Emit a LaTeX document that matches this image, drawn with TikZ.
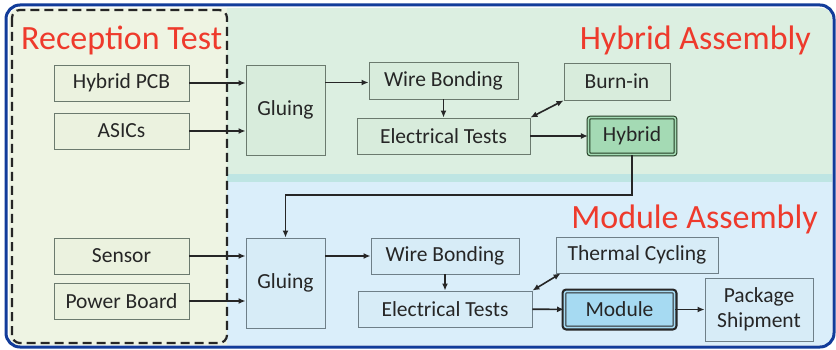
\documentclass[tikz,border=0pt]{standalone}
\usepackage{fontspec}
\setmainfont{Carlito}
\usetikzlibrary{arrows.meta,positioning,calc}

\definecolor{frameblue}{HTML}{123C9A}
\definecolor{recbg}{HTML}{EEF4E3}
\definecolor{hybbg}{HTML}{DCEFE1}
\definecolor{stripe}{HTML}{BEE5E3}
\definecolor{modbg}{HTML}{DAEEFA}
\definecolor{recbox}{HTML}{EBF2DF}
\definecolor{hybbox}{HTML}{D8ECDC}
\definecolor{modbox}{HTML}{D7ECF7}
\definecolor{hybfill}{HTML}{A4DAB4}
\definecolor{modfill}{HTML}{A6DAF2}
\definecolor{titlered}{HTML}{EE3A2C}
\definecolor{textdark}{HTML}{262626}
\definecolor{boxline}{HTML}{6B7A6E}
\definecolor{modline}{HTML}{6E7F88}

\begin{document}
\begin{tikzpicture}[x=1pt, y=-1pt, >={Latex[length=7pt,width=6pt]}, font=\fontsize{21.5}{25}\selectfont]
  \tikzstyle{block}=[draw=boxline, line width=0.9pt, inner sep=0pt, align=center, text=textdark, minimum height=36pt]
  \tikzstyle{recblock}=[block, fill=recbox, minimum width=135pt]
  \tikzstyle{hybblock}=[block, fill=hybbox]
  \tikzstyle{modblock}=[block, draw=modline, fill=modbox]
  \tikzstyle{title}=[text=titlered, font=\fontsize{34}{38}\selectfont, inner sep=0pt]
  \tikzstyle{flow}=[->, line width=1.6pt, draw=textdark]
  \tikzstyle{loop}=[<->, line width=1.6pt, draw=textdark]

  \useasboundingbox (0,0) rectangle (836,350);
  \fill[white] (0,0) rectangle (836,350);

  % ------- background areas -------
  \begin{scope}
    \clip[rounded corners=10pt] (9,8) rectangle (832,345);
    \fill[recbg] (0,0) rectangle (227,350);
    \fill[hybbg] (227,0) rectangle (836,174);
    \fill[stripe] (227,174) rectangle (836,182);
    \fill[modbg] (227,182) rectangle (836,350);
  \end{scope}
  \draw[frameblue, line width=3pt, rounded corners=14pt] (6,5) rectangle (834,347);
  \draw[textdark, line width=2.2pt, dash pattern=on 9pt off 5pt, rounded corners=8pt] (12,10) rectangle (227,343);

  % ------- titles -------
  \node[title, anchor=base west] (rectitle) at (21,50) {Reception Test};
  \node[title, anchor=base east] (hybtitle) at (811,50) {Hybrid Assembly};
  \node[title, anchor=base east] (modtitle) at (818,229) {Module Assembly};

  % ------- hybrid row -------
  \node[recblock] (pcb)  at (121.5,83)  {Hybrid PCB};
  \node[recblock] (asic) at (121.5,131) {ASICs};
  \node[hybblock, minimum width=79pt, minimum height=90pt] (glu1) at (285.5,110) {Gluing};
  \node[hybblock, minimum width=149pt, minimum height=37pt] (wb1) at (443.5,80.5) {Wire Bonding};
  \node[hybblock, minimum width=173pt] (et1) at (443.5,136) {Electrical Tests};
  \node[hybblock, minimum width=106pt, minimum height=37pt] (burn) at (617,81.5) {Burn-in};
  \node[block, draw=textdark!90!green, fill=hybfill, line width=1.1pt, double=hybfill, double distance=1.6pt,
        rounded corners=2pt, minimum width=87pt, minimum height=37pt] (hyb) at (632,136) {Hybrid};

  % ------- module row -------
  \node[recblock] (sens) at (121.5,256) {Sensor};
  \node[recblock] (pwr)  at (121.5,301) {Power Board};
  \node[modblock, minimum width=79pt, minimum height=90pt] (glu2) at (285.5,283) {Gluing};
  \node[modblock, minimum width=148pt] (wb2) at (445,256) {Wire Bonding};
  \node[modblock, minimum width=174pt] (et2) at (445,309) {Electrical Tests};
  \node[modblock, minimum width=162pt] (tc) at (637,255) {Thermal Cycling};
  \node[block, draw=textdark, fill=modfill, line width=1pt, double=modfill, double distance=1.6pt,
        preaction={draw=textdark, line width=6pt, rounded corners=2pt},
        rounded corners=2pt, minimum width=110pt, minimum height=36pt] (mod) at (619.5,309.5) {Module};
  \node[modblock, minimum width=108pt, minimum height=63pt] (pkg) at (759,309.5) {Package\\Shipment};

  % ------- arrows -------
  \draw[flow] (pcb) -- (pcb -| glu1.west);
  \draw[flow] (asic) -- (asic -| glu1.west);
  \draw[flow] ([yshift=-2pt]glu1.east |- wb1) -- ([yshift=-2pt]wb1.west);
  \draw[flow] (wb1) -- (et1);
  \draw[loop] (et1.north east) -- (burn.south west);
  \draw[flow] (et1) -- (hyb);
  \draw[flow] (hyb.south) -- ++(0,40) -| (glu2.north);

  \draw[flow] (sens) -- (sens -| glu2.west);
  \draw[flow] (pwr) -- (pwr -| glu2.west);
  \draw[flow] (glu2.east |- wb2) -- (wb2.west);
  \draw[flow] (wb2) -- (et2);
  \draw[loop] (et2.north east) -- ([xshift=5pt]tc.south west);
  \draw[flow] (et2) -- (mod);
  \draw[flow] (mod) -- (pkg);
\end{tikzpicture}
\end{document}
